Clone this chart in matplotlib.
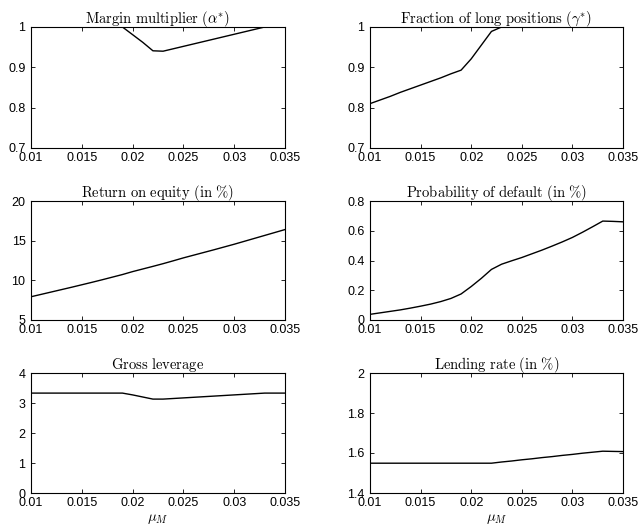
import numpy as np
import matplotlib
matplotlib.use("Agg")
import matplotlib.pyplot as plt
from matplotlib.ticker import FuncFormatter

plt.rcParams["mathtext.fontset"] = "cm"
plt.rcParams["font.family"] = ["Liberation Sans", "DejaVu Sans"]

# grid of mu_M values
mu = np.round(np.arange(0.010, 0.0351, 0.001), 3)

# values, one per grid point
alpha = [1, 1, 1, 1, 1, 1, 1, 1, 1, 1,
         0.981, 0.962, 0.941, 0.940, 0.946, 0.952, 0.958, 0.964, 0.970,
         0.976, 0.982, 0.988, 0.994, 1.0, 1.0, 1.0]
gamma = [0.810, 0.819, 0.828, 0.838, 0.847, 0.856, 0.865, 0.874, 0.884,
         0.893, 0.921, 0.955, 0.989, 1.0, 1, 1, 1, 1, 1, 1, 1, 1, 1, 1, 1, 1]
roe = [7.93, 8.23, 8.53, 8.83, 9.13, 9.44, 9.75, 10.07, 10.40, 10.73,
       11.10, 11.43, 11.76, 12.10, 12.46, 12.83, 13.17, 13.51, 13.85,
       14.20, 14.55, 14.92, 15.29, 15.66, 16.03, 16.40]
pd_ = [0.038, 0.048, 0.058, 0.068, 0.080, 0.093, 0.107, 0.124, 0.145,
       0.175, 0.225, 0.280, 0.340, 0.375, 0.398, 0.420, 0.445, 0.470,
       0.497, 0.525, 0.555, 0.590, 0.627, 0.665, 0.663, 0.660]
leverage = [3.33, 3.33, 3.33, 3.33, 3.33, 3.33, 3.33, 3.33, 3.33, 3.33,
            3.27, 3.20, 3.13, 3.13, 3.15, 3.17, 3.19, 3.21, 3.23,
            3.25, 3.27, 3.29, 3.31, 3.33, 3.33, 3.33]
lending = [1.549] * 13 + [1.555, 1.560, 1.566, 1.571, 1.577, 1.582,
                          1.588, 1.593, 1.599, 1.604, 1.609, 1.608, 1.607]

titles = [r"$\mathrm{Margin\ multiplier\ }(\alpha^{*})$",
          r"$\mathrm{Fraction\ of\ long\ positions\ }(\gamma^{*})$",
          r"$\mathrm{Return\ on\ equity\ (in\ \%)}$",
          r"$\mathrm{Probability\ of\ default\ (in\ \%)}$",
          r"$\mathrm{Gross\ leverage}$",
          r"$\mathrm{Lending\ rate\ (in\ \%)}$"]
series = [alpha, gamma, roe, pd_, leverage, lending]
ylims = [(0.7, 1), (0.7, 1), (5, 20), (0, 0.8), (0, 4), (1.4, 2)]
yticks = [[0.7, 0.8, 0.9, 1], [0.7, 0.8, 0.9, 1], [5, 10, 15, 20],
          [0, 0.2, 0.4, 0.6, 0.8], [0, 1, 2, 3, 4], [1.4, 1.6, 1.8, 2]]
xticks = [0.01, 0.015, 0.02, 0.025, 0.03, 0.035]

W, H = 640, 530
fig = plt.figure(figsize=(6.4, 5.3), dpi=100)
lefts = [31, 370]
widths = [254, 253]
rows = [(27, 148), (201, 320), (373, 493)]

fmt = FuncFormatter(lambda v, p: "%g" % round(v, 4))

for i in range(6):
    r, c = divmod(i, 2)
    top, bot = rows[r]
    ax = fig.add_axes([lefts[c] / W, 1 - bot / H, widths[c] / W, (bot - top) / H])
    ax.plot(mu, series[i], color="black", lw=1.0)
    ax.set_xlim(0.01, 0.035)
    ax.set_ylim(*ylims[i])
    ax.set_xticks(xticks)
    ax.set_yticks(yticks[i])
    ax.xaxis.set_major_formatter(fmt)
    ax.yaxis.set_major_formatter(fmt)
    ax.tick_params(direction="in", top=True, right=True, length=3,
                   width=0.6, labelsize=9)
    ax.tick_params(axis="x", pad=3)
    ax.tick_params(axis="y", pad=4)
    for s in ax.spines.values():
        s.set_linewidth(0.8)
    ax.set_title(titles[i], fontsize=10.5, pad=3)
    if r == 2:
        ax.set_xlabel(r"$\mu_M$", fontsize=10.5, labelpad=2)

fig.savefig("out.png", dpi=100)
